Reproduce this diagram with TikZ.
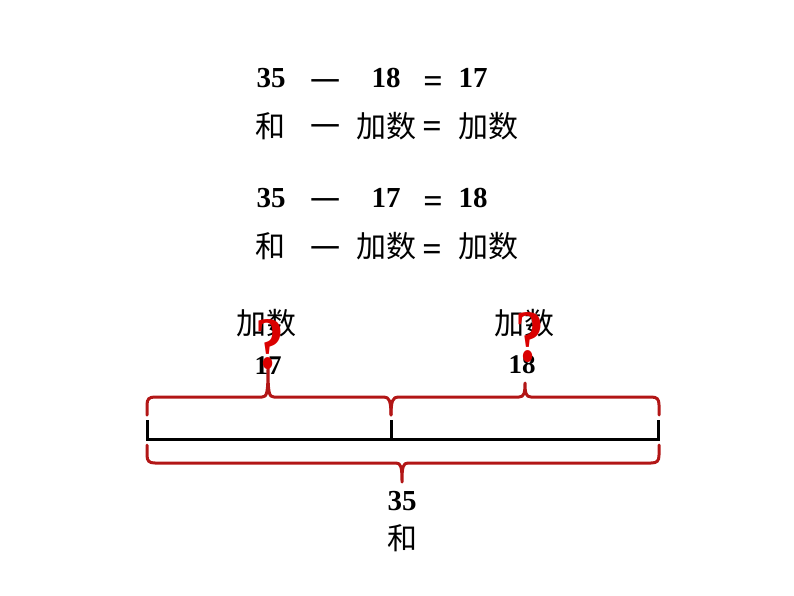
\documentclass[tikz,border=0pt]{standalone}
\usepackage{fontspec}
\setmainfont{Liberation Serif}
\newfontfamily\cjk{Noto Sans CJK SC}
\definecolor{bracered}{RGB}{178,22,22}
\definecolor{qred}{RGB}{218,0,0}
\begin{document}
\begin{tikzpicture}[x=1pt,y=-1pt,
  num/.style={inner sep=0pt,anchor=base,font=\fontsize{29}{29}\selectfont\bfseries},
  eqs/.style={inner sep=0pt,anchor=base,font=\fontsize{34}{34}\selectfont\bfseries},
  hz/.style={inner sep=0pt,anchor=base,font=\fontsize{30}{30}\selectfont\cjk},
  qmark/.style={inner sep=0pt,anchor=base,text=qred,xscale=0.78,font=\fontsize{74}{74}\selectfont\bfseries},
  bracepath/.style={draw=bracered,line width=3pt,line cap=round,line join=round},
  barpath/.style={draw=black,line width=3pt}]
\useasboundingbox (0,0) rectangle (794,596);
% braces
\draw[bracepath] (147,415) -- (147,405) .. controls (147,399) and (149,397) .. (155,397)
  -- (262,397) .. controls (267,397) and (268,393) .. (268,368)
  .. controls (268,393) and (269,397) .. (274,397)
  -- (384,397) .. controls (389,397) and (391,401) .. (391,415);
\draw[bracepath] (391,415) .. controls (391,401) and (393,397) .. (398,397)
  -- (519,397) .. controls (524,397) and (525,393) .. (525,383)
  .. controls (525,393) and (526,397) .. (531,397)
  -- (651,397) .. controls (657,397) and (659,399) .. (659,405) -- (659,415);
\draw[bracepath] (147,445) -- (147,455) .. controls (147,461) and (149,463) .. (155,463)
  -- (396,463) .. controls (401,463) and (402,467) .. (402,482)
  .. controls (402,467) and (403,463) .. (408,463)
  -- (651,463) .. controls (657,463) and (659,461) .. (659,455) -- (659,445);
% bar
\draw[barpath] (147,420) -- (147,439) -- (658,439) -- (658,420);
\draw[barpath] (391,420) -- (391,439);
% equations
\node[num] (a1) at (271,88) {35};
\node[hz]  (a2) at (325,93) {一};
\node[num] (a3) at (386,88) {18};
\node[eqs] (a4) at (433,93) {=};
\node[num] (a5) at (473,88) {17};
\node[hz]  (b1) at (270,138) {和};
\node[hz]  (b2) at (325,138) {一};
\node[hz]  (b3) at (386,138) {加数};
\node[eqs] (b4) at (432,138) {=};
\node[hz]  (b5) at (488,138) {加数};
\node[num] (c1) at (271,207) {35};
\node[hz]  (c2) at (325,211) {一};
\node[num] (c3) at (386,207) {17};
\node[eqs] (c4) at (433,212) {=};
\node[num] (c5) at (473,207) {18};
\node[hz]  (d1) at (270,257) {和};
\node[hz]  (d2) at (325,259) {一};
\node[hz]  (d3) at (386,257) {加数};
\node[eqs] (d4) at (432,260) {=};
\node[hz]  (d5) at (488,257) {加数};
% labels
\node[hz]  (l1) at (266,334) {加数};
\node[num,font=\fontsize{27}{27}\selectfont\bfseries] (l2) at (268,374) {17};
\node[hz]  (r1) at (524,334) {加数};
\node[num,font=\fontsize{27}{27}\selectfont\bfseries] (r2) at (522,373) {18};
\node[num] (s1) at (402,510) {35};
\node[hz]  (s2) at (402,549) {和};
% question marks
\node[qmark] (q1) at (270,368) {?};
\node[qmark] (q2) at (530,361) {?};
\end{tikzpicture}
\end{document}
